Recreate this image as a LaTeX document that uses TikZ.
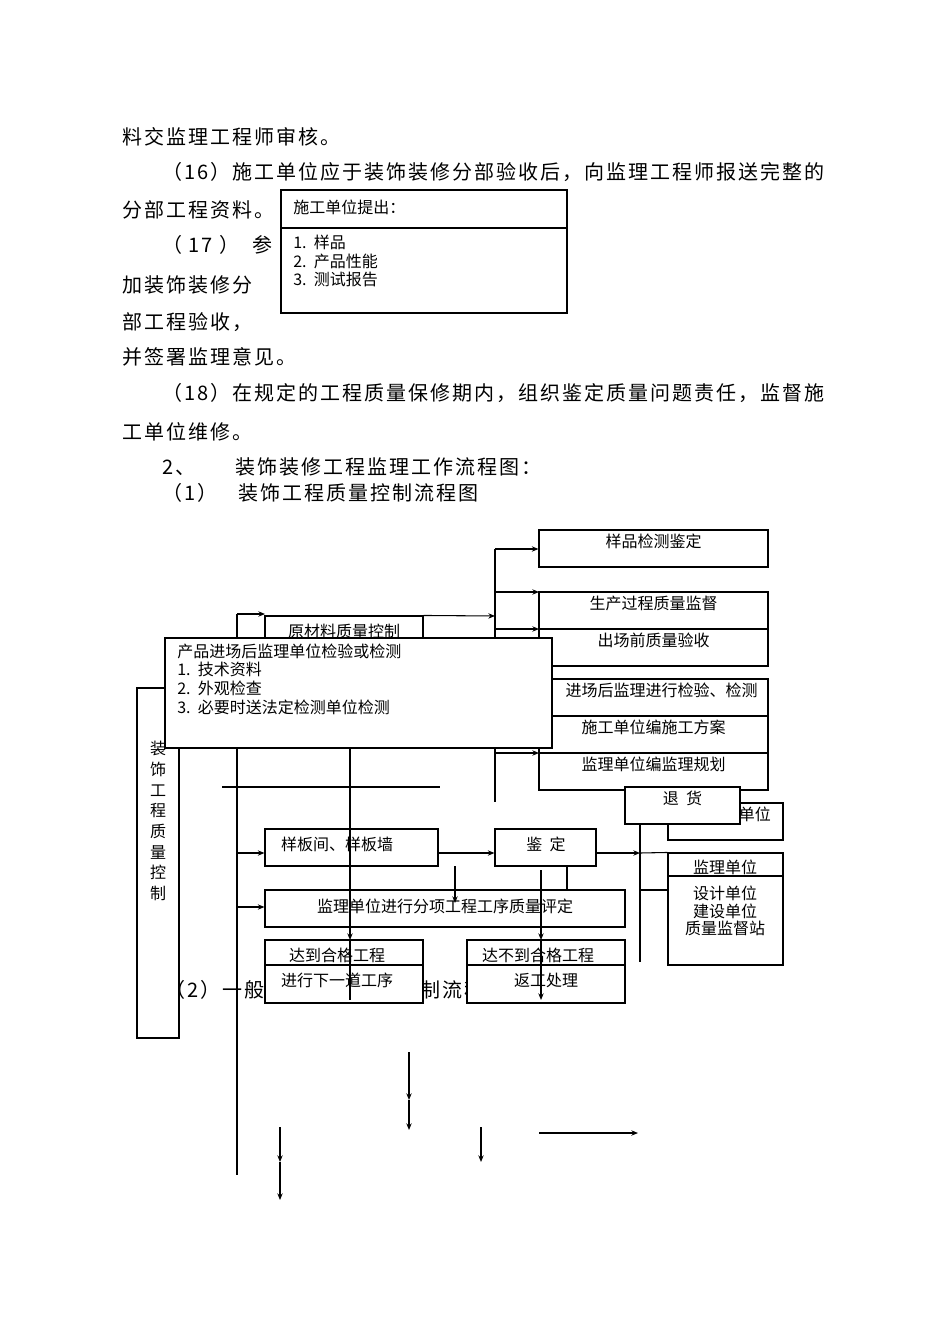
\documentclass[tikz,border=0pt]{standalone}
\usepackage{fontspec}
\setmainfont{Noto Sans CJK SC}
\newfontfamily\bodyf[LetterSpace=10]{Noto Sans CJK SC}
\usetikzlibrary{arrows.meta,fit}
\begin{document}
\begin{tikzpicture}[x=0.75pt,y=-0.75pt,
  bx/.style={draw,fill=white,line width=0.8pt,inner sep=0pt,font=\fontsize{12}{14}\selectfont},
  ln/.style={line width=0.8pt},
  ar/.style={line width=0.8pt,-{Stealth[length=5pt,width=4pt]}},
  bt/.style={anchor=west,inner sep=0pt,font=\bodyf\fontsize{15}{18}\selectfont},
  tx/.style={anchor=west,inner sep=0pt,font=\fontsize{12}{14}\selectfont,align=left}]
\useasboundingbox[fill=white] (0,0) rectangle (950,1344);
% body text
\node[bt] (t1) at (122,137) {料交监理工程师审核。};
\node[bt] (t2) at (162,172) {（16）施工单位应于装饰装修分部验收后，向监理工程师报送完整的};
\node[bt] (t3) at (122,210) {分部工程资料。};
\node[bt] (t4) at (162,245) {（ 17 ）\ \ 参};
\node[bt] (t5) at (122,285) {加装饰装修分};
\node[bt] (t6) at (122,322) {部工程验收，};
\node[bt] (t7) at (122,357) {并签署监理意见。};
\node[bt] (t8) at (162,393) {（18）在规定的工程质量保修期内，组织鉴定质量问题责任，监督施};
\node[bt] (t9) at (122,432) {工单位维修。};
\node[bt] (t10) at (162,467) {2、\hspace{30pt}装饰装修工程监理工作流程图：};
\node[bt] (t11) at (162,493) {（1）\hspace{16pt}装饰工程质量控制流程图};
\node[bt] (t12) at (165,990) {（2）一般装饰工程质量控制流程图};
% box top
\node[bx,fit={(281,190)(567,313)}] (sg) {};
\draw[ln] (281,228) -- (567,228);
\node[tx] (sg1) at (293,207) {施工单位提出：};
\node[tx] (sg2) at (293,261) {1.\ \ 样品\\2.\ \ 产品性能\\3.\ \ 测试报告};
% right column
\node[bx,fit={(539,530)(768,567)}] (r1) {样品检测鉴定};
\node[bx,fit={(539,592)(768,629)}] (r2) {生产过程质量监督};
\node[bx,fit={(539,629)(768,666)}] (r3) {出场前质量验收};
\node[bx,fit={(539,679)(768,716)}] (r4) {\hspace{12pt}进场后监理进行检验、检测};
\node[bx,fit={(539,716)(768,753)}] (r5) {施工单位编施工方案};
\node[bx,fit={(539,753)(768,790)}] (r6) {监理单位编监理规划};
\node[bx,fit={(668,803)(783,840)}] (sw) {\hspace{20pt}施工单位};
\node[bx,fit={(625,787)(740,824)}] (th) {退\ \ 货};
\node[bx,fit={(668,853)(783,965)}] (jl) {};
\draw[ln] (668,876) -- (783,876);
\node[font=\fontsize{12}{14}\selectfont] (jl1) at (725,867) {监理单位};
\node[font=\fontsize{12}{13}\selectfont,align=center] (jl2) at (725,911) {设计单位\\建设单位\\质量监督站};
% trunk
\coordinate (tA) at (495,549);
\coordinate (tB) at (495,802);
\draw[ln] (tA) -- (tB);
\draw[ar] (tA) -- (r1.west|-tA);
\draw[ar] (495,592) -- (539,592);
\draw[ar] (495,629) -- (539,629);
\draw[ar] (495,753) -- (539,753);
% raw material
\node[bx,fit={(265,616)(423,653)}] (yc) {};
\node[font=\fontsize{12}{14}\selectfont] (yct) at (344,631) {原材料质量控制};
\coordinate (v1) at (237,614);
\coordinate (v2) at (237,1175);
\draw[ln] (v1) -- (v2);
\draw[ar] (v1) -- (265,614);
\draw[ar] (yc.north east) -- (495,616);
% left box
\node[bx,fit={(137,688)(179,1038)}] (zs) {};
\node[font=\fontsize{12}{15.5}\selectfont,align=center] (zst) at (158,821) {装\\饰\\工\\程\\质\\量\\控\\制};
% big box
\node[bx,fit={(165,638)(552,748)}] (cp) {};
\node[tx] (cpt) at (177,679) {产品进场后监理单位检验或检测\\1.\ \ 技术资料\\2.\ \ 外观检查\\3.\ \ 必要时送法定检测单位检测};
\draw[ln] (zs.north west) -- (cp.west|-zs.north);
% middle
\draw[ln] (222,787) -- (440,787);
\node[bx,fit={(265,829)(438,866)}] (yb) {};
\node[font=\fontsize{12}{14}\selectfont] (ybt) at (337,844) {样板间、样板墙};
\node[bx,fit={(495,829)(596,866)}] (jd) {};
\node[font=\fontsize{12}{14}\selectfont] (jdt) at (546,844) {鉴\ \ 定};
\draw[ar] (237,853) -- (yb.west|-0,853);
\draw[ar] (438,853) -- (jd.west|-0,853);
\coordinate (g1) at (640,824);
\coordinate (g2) at (640,962);
\draw[ln] (g1) -- (g2);
\draw[ar] (596,853) -- (640,853);
\draw[ln] (640,853) -- (jl.north west);
\draw[ln] (640,890) -- (668,890);
\node[bx,fit={(265,890)(625,927)}] (pd) {};
\node[font=\fontsize{12}{14}\selectfont] (pdt) at (445,906) {监理单位进行分项工程工序质量评定};
\draw[ar] (237,907) -- (pd.west|-0,907);
\draw[ar] (455,866) -- (455,903);
\draw[ln] (567,866) -- (567,890);
\node[bx,fit={(265,940)(423,1003)}] (dd) {};
\draw[ln] (265,965) -- (423,965);
\node[font=\fontsize{12}{14}\selectfont] (ddt) at (337,955) {达到合格工程};
\node[font=\fontsize{12}{14}\selectfont] (ddt2) at (337,980) {进行下一道工序};
\node[bx,fit={(467,940)(625,1003)}] (bd) {};
\draw[ln] (467,965) -- (625,965);
\node[font=\fontsize{12}{14}\selectfont] (bdt) at (538,955) {达不到合格工程};
\node[font=\fontsize{12}{14}\selectfont] (bdt2) at (546,980) {返工处理};
\draw[ar] (350,748) -- (350,940);
\draw[ln] (350,940) -- (350,1000);
\draw[ar] (541,870) -- (541,940);
\draw[ar] (541,940) -- (541,1000);
% loose arrows
\coordinate (a1) at (409,1052);
\coordinate (a2) at (409,1100);
\coordinate (a3) at (409,1130);
\draw[ar] (a1) -- (a2); \draw[ar] (a2) -- (a3);
\coordinate (b1) at (280,1127);
\coordinate (b2) at (280,1162);
\coordinate (b3) at (280,1200);
\draw[ar] (b1) -- (b2); \draw[ar] (b2) -- (b3);
\coordinate (c1) at (481,1127);
\coordinate (c2) at (481,1162);
\draw[ar] (c1) -- (c2);
\coordinate (d1) at (539,1133);
\coordinate (d2) at (638,1133);
\draw[ar] (d1) -- (d2);
\end{tikzpicture}
\end{document}
